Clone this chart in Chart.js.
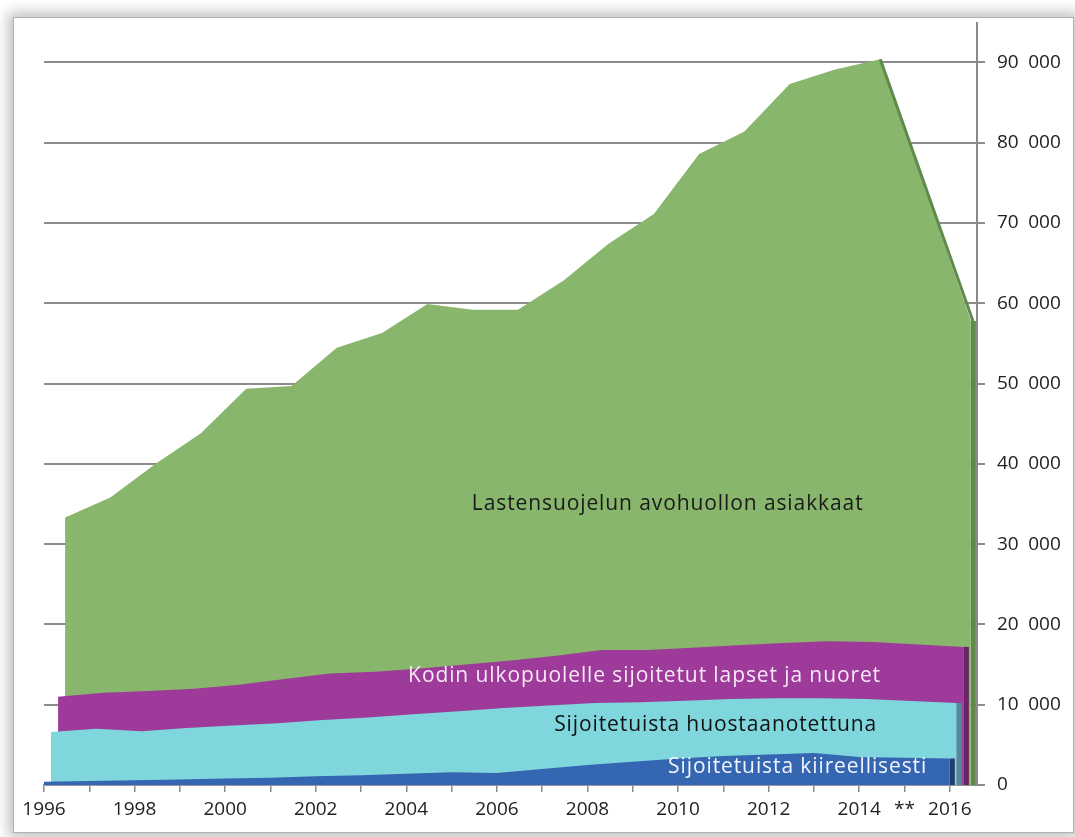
<!DOCTYPE html>
<html>
<head>
<meta charset="utf-8">
<script src="https://cdn.jsdelivr.net/npm/chart.js@4.4.1/dist/chart.umd.min.js"></script>
<style>
  html, body { margin: 0; padding: 0; background: #fff; }
  #wrap { position: relative; width: 1075px; height: 837px; overflow: hidden; }
  #frame {
    position: absolute; left: 14px; top: 18px; width: 1059px; height: 814px;
    background: #fff;
    box-shadow: 0 0 0 1px #b0b0b0, 0 0 12px 6px rgba(0,0,0,0.24);
  }
  #chart { position: absolute; left: 0; top: 0; }
</style>
</head>
<body>
<div id="wrap">
  <div id="frame"></div>
  <canvas id="chart" width="1075" height="837"></canvas>
</div>
<script>
// vuodet; 2015 puuttuu (**)
const years = [1996, 1997, 1998, 1999, 2000, 2001, 2002, 2003, 2004, 2005, 2006,
               2007, 2008, 2009, 2010, 2011, 2012, 2013, 2014, 2015, 2016];

const avohuolto = [33300, 35800, 40000, 43800, 49350, 49700, 54450, 56300, 59900, 59200, 59200,
                   62800, 67400, 71100, 78600, 81400, 87300, 89100, 90400, null, 57800];
const sijoitetut = [11000, 11500, 11700, 12000, 12500, 13200, 13900, 14100, 14500, 15000, 15500,
                    16100, 16800, 16800, 17100, 17400, 17700, 17900, 17800, null, 17200];
const huostaan = [6600, 7000, 6700, 7100, 7400, 7700, 8100, 8400, 8800, 9200, 9600,
                  9900, 10200, 10300, 10500, 10700, 10800, 10800, 10700, null, 10200];
const kiireell = [400, 500, 600, 700, 800, 900, 1100, 1200, 1400, 1600, 1500,
                  2000, 2500, 2900, 3300, 3600, 3800, 4000, 3500, null, 3300];

const seriesNames = [
  'Sijoitetuista kiireellisesti',
  'Sijoitetuista huostaanotettuna',
  'Kodin ulkopuolelle sijoitetut lapset ja nuoret',
  'Lastensuojelun avohuollon asiakkaat'
];
const yTicks = [0, 10000, 20000, 30000, 40000, 50000, 60000, 70000, 80000, 90000];

const xMin = 1996, xMax = 2016.6;
const depth = 0.155;   // 3D depth step in years
const fmt = v => String(v).replace(/\B(?=(\d{3})+(?!\d))/g, '\u2002');

// puuttuva vuosi jätetään pois, viiva yhdistää 2014 -> 2016
const pts = arr => arr.map((v, i) => ({ x: years[i], y: v })).filter(p => p.y !== null);

// series label positions (year on front axis, value)
const labelPos = [
  { text: seriesNames[3], x: 2009.77, y: 35000, color: '#1a1a1a' },
  { text: seriesNames[2], x: 2009.26, y: 13550, color: '#f6e8f6' },
  { text: seriesNames[1], x: 2010.83, y: 7500, color: '#111111' },
  { text: seriesNames[0], x: 2012.64, y: 2250, color: '#f2f4ff' }
];

const sides = {
  id: 'sides',
  afterDatasetsDraw(chart) {
    const ctx = chart.ctx, y0 = chart.scales.y.getPixelForValue(0);
    ctx.save();
    for (let i = chart.data.datasets.length - 1; i >= 0; i--) {
      const ds = chart.data.datasets[i];
      const d = chart.getDatasetMeta(i).data;
      const p = d[d.length - 1], q = d[d.length - 2];
      ctx.fillStyle = ds.sideColor;
      ctx.fillRect(p.x, p.y, 5, y0 - p.y);
      if (ds.topEdge) {
        // laskeva yläpinta viimeisellä välillä
        ctx.strokeStyle = ds.sideColor;
        ctx.lineWidth = 3;
        ctx.beginPath();
        ctx.moveTo(q.x, q.y);
        ctx.lineTo(p.x + 2, p.y);
        ctx.stroke();
      }
    }
    ctx.font = '21px "Open Sans"';
    ctx.letterSpacing = '0.9px';
    ctx.textAlign = 'center';
    ctx.textBaseline = 'middle';
    labelPos.forEach(l => {
      ctx.fillStyle = l.color;
      ctx.fillText(l.text, chart.scales.x.getPixelForValue(l.x), chart.scales.y.getPixelForValue(l.y));
    });
    ctx.restore();
  }
};

const hiddenX = k => ({
  type: 'linear', display: false, min: xMin - k * depth, max: xMax - k * depth
});

new Chart(document.getElementById('chart'), {
  type: 'line',
  data: {
    datasets: [
      { label: seriesNames[0], data: pts(kiireell), xAxisID: 'x',
        backgroundColor: '#3566b1', sideColor: '#213f6e' },
      { label: seriesNames[1], data: pts(huostaan), xAxisID: 'x1',
        backgroundColor: '#7fd6dc', sideColor: '#4c8d97' },
      { label: seriesNames[2], data: pts(sijoitetut), xAxisID: 'x2',
        backgroundColor: '#9e3a99', sideColor: '#6b2468' },
      { label: seriesNames[3], data: pts(avohuolto), xAxisID: 'x3',
        backgroundColor: '#88b66c', sideColor: '#5f8a4b', topEdge: true }
    ].map(d => Object.assign({ fill: 'origin', tension: 0, pointRadius: 0, borderWidth: 0,
                               borderColor: 'rgba(0,0,0,0)' }, d))
  },
  options: {
    responsive: false,
    animation: false,
    layout: { padding: { left: 44, top: 18, right: 0, bottom: 0 } },
    plugins: { legend: { display: false }, tooltip: { enabled: false } },
    scales: {
      x: {
        type: 'linear', position: 'bottom', min: xMin, max: xMax,
        afterFit: s => { s.height = 52; },
        afterBuildTicks: s => { s.ticks = years.map(v => ({ value: v })); },
        border: { display: true, color: '#9a9a9a', width: 1.5 },
        grid: { drawOnChartArea: false, drawTicks: true, tickLength: 7, color: '#8a8a8a', lineWidth: 1.5 },
        ticks: {
          autoSkip: false, maxRotation: 0, padding: 6, color: '#222',
          font: { family: 'Open Sans', size: 19 },
          callback: v => v === 2015 ? '**' : (v % 2 === 0 ? String(v) : '')
        }
      },
      x1: hiddenX(1),
      x2: hiddenX(2),
      x3: hiddenX(3),
      y: {
        type: 'linear', position: 'right', min: 0, max: 94850,
        afterFit: s => { s.width = 98; },
        afterBuildTicks: s => { s.ticks = yTicks.map(v => ({ value: v })); },
        border: { display: true, color: '#8a8a8a', width: 2 },
        grid: { color: '#8c8c8c', lineWidth: 2, tickLength: 8 },
        ticks: { padding: 12, color: '#222', font: { family: 'Open Sans', size: 19 }, callback: v => fmt(v) }
      }
    }
  },
  plugins: [sides]
});
</script>
</body>
</html>
